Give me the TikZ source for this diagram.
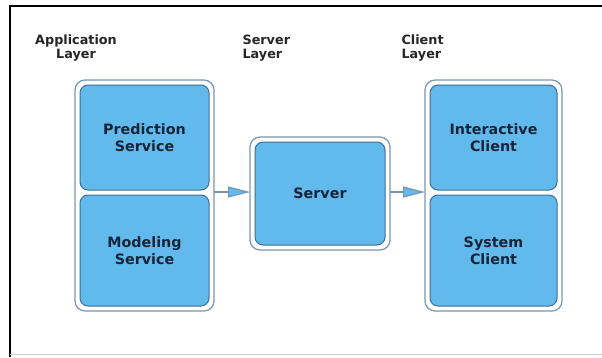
\documentclass[tikz,border=0pt]{standalone}
\usepackage{fontspec}
\setmainfont{DejaVu Sans}
\usetikzlibrary{arrows.meta}
\definecolor{boxfill}{RGB}{98,186,236}
\definecolor{boxline}{RGB}{66,110,145}
\definecolor{frameline}{RGB}{120,150,175}
\definecolor{txt}{RGB}{22,36,58}
\tikzset{
  container/.style={draw=frameline, line width=1.2pt, fill=white, rounded corners=10pt},
  unit/.style={draw=boxline, line width=1pt, fill=boxfill, rounded corners=8pt,
    font=\fontsize{14.3}{17}\selectfont\bfseries, text=txt, align=center},
  heading/.style={font=\fontsize{12.8}{14.5}\selectfont\bfseries, text=black!85, align=center},
  flow/.style={draw=frameline, line width=1.2pt,
    -{Triangle[open, length=22pt, width=11pt, fill=boxfill, line width=1.2pt]}}
}
\begin{document}
\begin{tikzpicture}[x=1pt,y=-1pt]
\useasboundingbox (0,0) rectangle (602,357);
% page frame
\draw[black, line width=2pt] (9.5,357) -- (9.5,5.5) -- (602,5.5);
\draw[black!20, line width=1pt] (9.5,354.5) -- (602,354.5);

% layer headings
\node[heading] (happ) at (76,48) {Application\\Layer};
\node[heading, align=left, anchor=west] (hsrv) at (239,48) {Server\\Layer};
\node[heading, align=left, anchor=west] (hcli) at (398,48) {Client\\Layer};

% application layer
\draw[container] (75,80) rectangle (214,311);
\coordinate (appE) at (214,192);
\node[unit, minimum width=129pt, minimum height=105pt] (pred) at (144.5,137.5) {Prediction\\Service};
\node[unit, minimum width=129pt, minimum height=111pt] (model) at (144.5,250.5) {Modeling\\Service};

% server layer
\draw[container] (250,137) rectangle (390,250);
\coordinate (srvW) at (250,192);
\coordinate (srvE) at (390,192);
\node[unit, minimum width=130pt, minimum height=103pt] (server) at (320,193.5) {Server};

% client layer
\draw[container] (425,80) rectangle (562,311);
\coordinate (cliW) at (425,192);
\node[unit, minimum width=127pt, minimum height=105pt] (inter) at (493.5,137.5) {Interactive\\Client};
\node[unit, minimum width=127pt, minimum height=111pt] (sys) at (493.5,250.5) {System\\Client};

% connectors
\draw[flow] (appE) -- (srvW);
\draw[flow] (srvE) -- (cliW);
\end{tikzpicture}
\end{document}
